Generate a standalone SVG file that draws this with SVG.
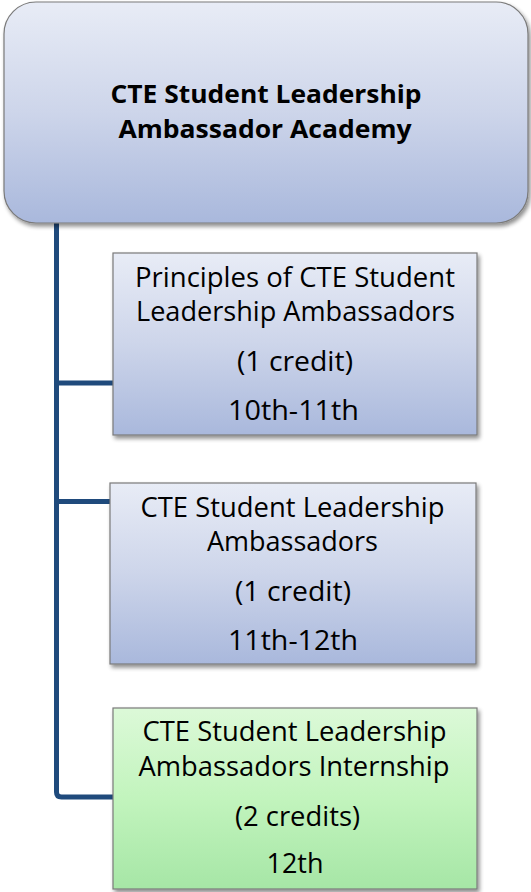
<svg xmlns="http://www.w3.org/2000/svg" width="531" height="892" viewBox="0 0 531 892">
<defs>
<linearGradient id="gBlue" x1="0" y1="0" x2="0" y2="1">
<stop offset="0" stop-color="#e8ecf6"/>
<stop offset="0.5" stop-color="#cdd5ea"/>
<stop offset="1" stop-color="#a9b8dc"/>
</linearGradient>
<linearGradient id="gGreen" x1="0" y1="0" x2="0" y2="1">
<stop offset="0" stop-color="#dcf9d8"/>
<stop offset="0.5" stop-color="#c2f4bd"/>
<stop offset="1" stop-color="#a6e6a6"/>
</linearGradient>
<filter id="sh" x="-5%" y="-5%" width="112%" height="115%">
<feGaussianBlur in="SourceAlpha" stdDeviation="2"/>
<feOffset dx="2" dy="3" result="b"/>
<feComponentTransfer><feFuncA type="linear" slope="0.45"/></feComponentTransfer>
<feMerge><feMergeNode/><feMergeNode in="SourceGraphic"/></feMerge>
</filter>
</defs>
<style>
.box{stroke:#7a7a7a;stroke-width:1.2;filter:url(#sh)}
.blue{fill:url(#gBlue)}
.green{fill:url(#gGreen)}
.t{font-family:"Open Sans",Lato,"Liberation Sans",sans-serif;font-size:27px;fill:#000;text-anchor:middle}
.tb{font-family:"Open Sans",Lato,"Liberation Sans",sans-serif;font-size:25px;font-weight:bold;fill:#000;text-anchor:middle}
.conn{fill:none;stroke:#1f4a7c;stroke-width:5}
</style>
<g id="connectors">
<path class="conn" d="M56.5,223 V792 Q56.5,797 61.5,797 H113"/>
<path class="conn" d="M56.5,383 H113"/>
<path class="conn" d="M56.5,501.5 H110"/>
</g>
<g id="root">
<rect class="box blue" x="4" y="2" width="524" height="221" rx="32" ry="32"/>
<text class="tb" x="266" y="103" textLength="311" lengthAdjust="spacingAndGlyphs">CTE Student Leadership</text>
<text class="tb" x="265" y="138" textLength="293" lengthAdjust="spacingAndGlyphs">Ambassador Academy</text>
</g>
<g id="node1">
<rect class="box blue" x="113" y="253" width="364" height="182"/>
<text class="t" x="295" y="287" textLength="320" lengthAdjust="spacingAndGlyphs">Principles of CTE Student</text>
<text class="t" x="295.5" y="321" textLength="319" lengthAdjust="spacingAndGlyphs">Leadership Ambassadors</text>
<text class="t" x="295" y="371" textLength="116" lengthAdjust="spacingAndGlyphs">(1 credit)</text>
<text class="t" x="293.5" y="420" textLength="131" lengthAdjust="spacingAndGlyphs">10th-11th</text>
</g>
<g id="node2">
<rect class="box blue" x="110" y="483" width="366" height="181"/>
<text class="t" x="292.5" y="517" textLength="304" lengthAdjust="spacingAndGlyphs">CTE Student Leadership</text>
<text class="t" x="292.5" y="551" textLength="171" lengthAdjust="spacingAndGlyphs">Ambassadors</text>
<text class="t" x="293" y="601" textLength="116" lengthAdjust="spacingAndGlyphs">(1 credit)</text>
<text class="t" x="293" y="650" textLength="130" lengthAdjust="spacingAndGlyphs">11th-12th</text>
</g>
<g id="node3">
<rect class="box green" x="113" y="708" width="364" height="181"/>
<text class="t" x="294.5" y="741" textLength="304" lengthAdjust="spacingAndGlyphs">CTE Student Leadership</text>
<text class="t" x="294" y="776" textLength="311" lengthAdjust="spacingAndGlyphs">Ambassadors Internship</text>
<text class="t" x="297.5" y="826" textLength="125" lengthAdjust="spacingAndGlyphs">(2 credits)</text>
<text class="t" x="295" y="873" textLength="57" lengthAdjust="spacingAndGlyphs">12th</text>
</g>
</svg>
